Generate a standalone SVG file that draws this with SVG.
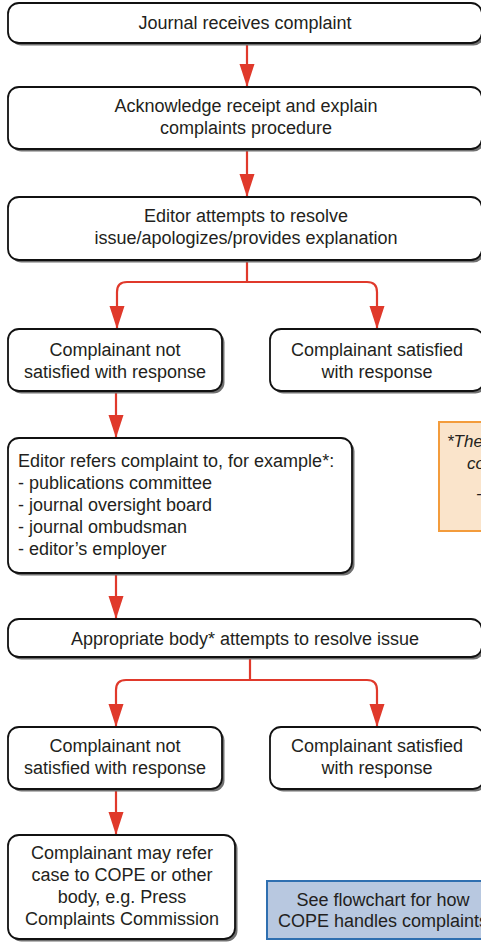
<svg xmlns="http://www.w3.org/2000/svg" width="481" height="942" viewBox="0 0 481 942">
<defs>
<style>
.box{fill:#fff;stroke:#111;stroke-width:1.8}
.sh{fill:#707070}
.t{font-family:"Liberation Sans",Arial,sans-serif;font-size:18px;fill:#231f20}
.c{text-anchor:middle}
.con{fill:none;stroke:#e0392b;stroke-width:2.2}
.note{font-family:"Liberation Sans",Arial,sans-serif;font-size:17px;font-style:italic;fill:#231f20}
</style>
<marker id="ah" markerUnits="userSpaceOnUse" markerWidth="24" markerHeight="16" refX="23" refY="7.5" orient="auto">
<path d="M0,0 L23,7.5 L0,15 z" fill="#e0392b"/>
</marker>
</defs>
<rect width="481" height="942" fill="#fff"/>

<g id="connectors">
<path class="con" d="M247,44 V87" marker-end="url(#ah)"/>
<path class="con" d="M247,150 V197" marker-end="url(#ah)"/>
<path class="con" d="M247,261 V282"/>
<path class="con" d="M247,282 H127 Q117,282 117,292 V329" marker-end="url(#ah)"/>
<path class="con" d="M247,282 H367 Q377,282 377,292 V329" marker-end="url(#ah)"/>
<path class="con" d="M116,392 V438" marker-end="url(#ah)"/>
<path class="con" d="M116,574 V619" marker-end="url(#ah)"/>
<path class="con" d="M250,658 V680"/>
<path class="con" d="M250,680 H126 Q116,680 116,690 V727" marker-end="url(#ah)"/>
<path class="con" d="M250,680 H367 Q377,680 377,690 V727" marker-end="url(#ah)"/>
<path class="con" d="M116,790 V835" marker-end="url(#ah)"/>
</g>

<g id="n1">
<rect class="sh" x="10.5" y="5.5" width="474" height="40" rx="11"/>
<rect class="box" x="8" y="3" width="474" height="40" rx="11"/>
<text class="t c" x="245" y="29">Journal receives complaint</text>
</g>

<g id="n2">
<rect class="sh" x="10.5" y="89.5" width="474" height="62" rx="11"/>
<rect class="box" x="8" y="87" width="474" height="62" rx="11"/>
<text class="t c" x="246" y="112">Acknowledge receipt and explain</text>
<text class="t c" x="246" y="134">complaints procedure</text>
</g>

<g id="n3">
<rect class="sh" x="10.5" y="199.5" width="474" height="63" rx="11"/>
<rect class="box" x="8" y="197" width="474" height="63" rx="11"/>
<text class="t c" x="246" y="222">Editor attempts to resolve</text>
<text class="t c" x="246" y="244">issue/apologizes/provides explanation</text>
</g>

<g id="n4">
<rect class="sh" x="10.5" y="331.5" width="214" height="62" rx="11"/>
<rect class="box" x="8" y="329" width="214" height="62" rx="11"/>
<text class="t c" x="115" y="356">Complainant not</text>
<text class="t c" x="115" y="378">satisfied with response</text>
</g>

<g id="n5">
<rect class="sh" x="272.5" y="331.5" width="214" height="62" rx="11"/>
<rect class="box" x="270" y="329" width="214" height="62" rx="11"/>
<text class="t c" x="377" y="356">Complainant satisfied</text>
<text class="t c" x="377" y="378">with response</text>
</g>

<g id="n6">
<rect class="sh" x="10.5" y="440.5" width="344" height="135" rx="11"/>
<rect class="box" x="8" y="438" width="344" height="135" rx="11"/>
<text class="t" x="18" y="467">Editor refers complaint to, for example*:</text>
<text class="t" x="18" y="489">- publications committee</text>
<text class="t" x="18" y="511">- journal oversight board</text>
<text class="t" x="18" y="533">- journal ombudsman</text>
<text class="t" x="18" y="555">- editor’s employer</text>
</g>

<g id="note">
<rect x="439" y="422" width="60" height="109" fill="#fae4cb" stroke="#f39c3c" stroke-width="2"/>
<text class="note" x="447" y="447">*The</text>
<text class="note" x="467" y="469">co</text>
<text class="note" x="476" y="499">-</text>
</g>

<g id="n7">
<rect class="sh" x="10.5" y="621.5" width="474" height="38" rx="11"/>
<rect class="box" x="8" y="619" width="474" height="38" rx="11"/>
<text class="t c" x="245" y="645">Appropriate body* attempts to resolve issue</text>
</g>

<g id="n8">
<rect class="sh" x="10.5" y="729.5" width="214" height="62" rx="11"/>
<rect class="box" x="8" y="727" width="214" height="62" rx="11"/>
<text class="t c" x="115" y="752">Complainant not</text>
<text class="t c" x="115" y="774">satisfied with response</text>
</g>

<g id="n9">
<rect class="sh" x="272.5" y="729.5" width="214" height="62" rx="11"/>
<rect class="box" x="270" y="727" width="214" height="62" rx="11"/>
<text class="t c" x="377" y="752">Complainant satisfied</text>
<text class="t c" x="377" y="774">with response</text>
</g>

<g id="n10">
<rect class="sh" x="10.5" y="837.5" width="227" height="104" rx="11"/>
<rect class="box" x="8" y="835" width="227" height="104" rx="11"/>
<text class="t c" x="122" y="859">Complainant may refer</text>
<text class="t c" x="122" y="881">case to COPE or other</text>
<text class="t c" x="122" y="903">body, e.g. Press</text>
<text class="t c" x="122" y="925">Complaints Commission</text>
</g>

<g id="n11">
<rect x="267" y="881" width="232" height="58" fill="#b8c8e0" stroke="#2f6fb0" stroke-width="2"/>
<text class="t c" x="383" y="906">See flowchart for how</text>
<text class="t c" x="383" y="927">COPE handles complaints</text>
</g>
</svg>
